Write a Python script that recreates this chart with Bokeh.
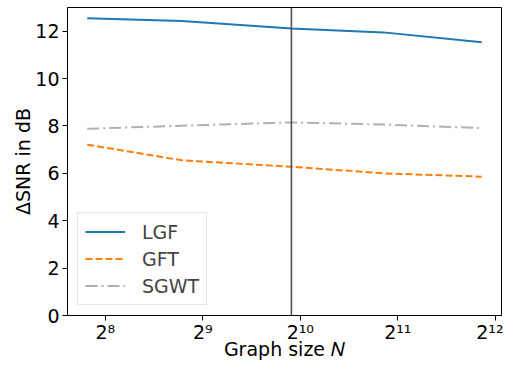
import numpy as np
from bokeh.plotting import figure
from bokeh.models import FixedTicker, Span, Range1d
from bokeh.embed import file_html
from bokeh.resources import INLINE

# Data
N = [225, 441, 961, 1849, 3721]
lgf = [12.55, 12.43, 12.11, 11.95, 11.53]
gft = [7.21, 6.55, 6.28, 6.00, 5.86]
sgwt = [7.88, 8.01, 8.15, 8.06, 7.91]
x_ticks = [256, 512, 1024, 2048, 4096]
x_tick_labels = ["2⁸", "2⁹", "2¹⁰", "2¹¹", "2¹²"]
y_ticks = [0, 2, 4, 6, 8, 10, 12]
y_max = 13.0

FONT = "DejaVu Sans"
FS = "19px"

lo, hi = np.log2(min(N)), np.log2(max(N))
m = 0.05 * (hi - lo)
x0, x1 = 2 ** (lo - m), 2 ** (hi + m)
xr = Range1d(x0, x1)

p = figure(width=503, height=362, x_axis_type="log", x_range=xr,
           y_range=Range1d(0, y_max), output_backend="svg",
           toolbar_location=None)
p.min_border_left = 67
p.min_border_right = 2
p.min_border_top = 7
p.min_border_bottom = 40

p.xgrid.visible = False
p.ygrid.visible = False
p.outline_line_color = "black"
p.outline_line_width = 1
p.background_fill_color = "white"
p.border_fill_color = "white"

p.add_layout(Span(location=N[2], dimension="height", line_color="#505050",
                  line_width=1.6))

p.line(N, lgf, line_color="#1f77b4", line_width=2, legend_label="LGF")
p.line(N, gft, line_color="#ff7f0e", line_width=2, line_dash="7 3",
       legend_label="GFT")
p.line(N, sgwt, line_color="#b0b0b0", line_width=2, line_dash="12 4 2 4",
       legend_label="SGWT")

p.xaxis.ticker = FixedTicker(ticks=x_ticks, minor_ticks=[])
p.xaxis.major_label_overrides = {t: l for t, l in zip(x_ticks, x_tick_labels)}
p.yaxis.ticker = FixedTicker(ticks=y_ticks, minor_ticks=[])

for ax in (p.xaxis[0], p.yaxis[0]):
    ax.axis_line_color = "black"
    ax.major_tick_line_color = "black"
    ax.major_tick_out = 5
    ax.major_tick_in = 0
    ax.minor_tick_out = 0
    ax.minor_tick_in = 0
    ax.major_label_text_font = FONT
    ax.major_label_text_font_size = FS
    ax.major_label_text_color = "black"
    ax.axis_label_text_font = FONT
    ax.axis_label_text_font_size = FS
    ax.axis_label_text_font_style = "normal"
    ax.axis_label_text_color = "black"
    ax.major_label_standoff = 3

p.xaxis.axis_label = "Graph size 𝑁"
p.yaxis.axis_label = "ΔSNR in dB"
p.xaxis.major_label_standoff = 0
p.xaxis.axis_label_standoff = -8
p.yaxis.axis_label_standoff = -2

lg = p.legend[0]
lg.location = "bottom_left"
lg.margin = 10
lg.padding = 7
lg.spacing = 4
lg.glyph_width = 40
lg.glyph_height = 23
lg.label_height = 23
lg.label_standoff = 17
lg.label_text_font = FONT
lg.label_text_font_size = FS
lg.border_line_color = "#cccccc"
lg.border_line_width = 1
lg.background_fill_alpha = 0.8

open("out.html", "w").write(file_html(p, INLINE))
